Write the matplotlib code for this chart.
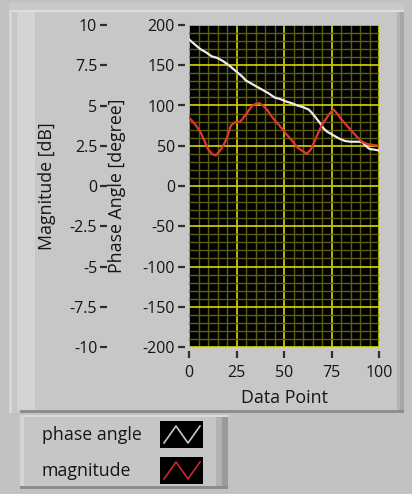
import matplotlib
matplotlib.use("Agg")
import matplotlib.pyplot as plt
from matplotlib.patches import Rectangle
from matplotlib.ticker import MultipleLocator, FixedLocator, FuncFormatter

plt.rcParams["font.family"] = ["Open Sans", "DejaVu Sans"]
plt.rcParams["axes.unicode_minus"] = False

# ---- data -------------------------------------------------------------
phase_x = [0, 2, 4, 6, 9, 12, 15, 18, 21, 24, 26, 28, 30, 33, 36, 39, 42, 45,
           48, 51, 54, 57, 60, 63, 65, 67, 69, 71, 73, 76, 79, 82, 85, 88, 91,
           93, 95, 98, 100]
phase_deg = [182, 178, 174, 170, 166, 161, 159, 155, 150, 144, 140, 136, 131,
             127, 123, 119, 115, 110, 108, 105, 103, 100, 98, 95, 90, 84, 78,
             71, 67, 63, 59, 56, 55, 55, 55, 50, 46, 45, 44]

mag_x = [0, 2, 4, 6, 8, 10, 12, 14, 16, 18, 20, 22, 24, 27, 30, 33, 35, 37, 39,
         41, 43, 45, 48, 51, 54, 57, 60, 62, 64, 66, 68, 70, 72, 74, 76, 78, 80,
         82, 85, 88, 91, 94, 97, 100]
mag_db = [4.25, 4.0, 3.7, 3.35, 2.85, 2.3, 2.0, 1.9, 2.15, 2.5, 3.0, 3.75, 3.95,
          4.0, 4.45, 4.95, 5.1, 5.15, 5.0, 4.75, 4.4, 4.1, 3.7, 3.25, 2.85, 2.4,
          2.15, 2.0, 2.25, 2.75, 3.3, 3.8, 4.15, 4.5, 4.75, 4.5, 4.15, 3.9, 3.5,
          3.1, 2.75, 2.6, 2.55, 2.5]

x_ticks = [0, 25, 50, 75, 100]
phase_ticks = [-200, -150, -100, -50, 0, 50, 100, 150, 200]
mag_ticks = [-10, -7.5, -5, -2.5, 0, 2.5, 5, 7.5, 10]

legend_names = ["phase angle", "magnitude"]
phase_color = "#ececec"
mag_color = "#e0382a"

# ---- figure -------------------------------------------------------------
W, H = 412, 494
fig = plt.figure(figsize=(W / 100, H / 100), dpi=100)
fig.patch.set_facecolor("#c2c2c2")

TXT = "#151515"
FS_TICK = 11.5
FS_LABEL = 12.8


def fx(px):
    return px / W


def fy(py):
    return 1 - py / H


# panel background drawn in pixel coordinates
bg = fig.add_axes([0, 0, 1, 1], zorder=-5)
bg.set_xlim(0, W)
bg.set_ylim(H, 0)
bg.axis("off")


def rect(x0, y0, x1, y1, color, **kw):
    bg.add_patch(Rectangle((x0, y0), x1 - x0, y1 - y0, facecolor=color,
                           edgecolor="none", **kw))


# graph frame
rect(9, 3, 404, 413, "#c7c7c7")
rect(9, 3, 404, 10, "#c9c9c9")
rect(9, 10, 404, 12, "#dedede")
rect(9, 10, 12, 413, "#d6d6d6")
rect(17, 12, 35, 411, "#d3d3d3")
rect(397, 12, 400, 411, "#b4b4b4")
rect(400, 12, 404, 411, "#a6a6a6")
rect(20, 410, 404, 413, "#8e8e8e")

# legend panel
rect(20, 415, 228, 489, "#c6c6c6")
rect(20, 415, 228, 417, "#dadada")
rect(20, 415, 24, 489, "#d4d4d4")
rect(216, 417, 222, 487, "#b2b2b2")
rect(222, 417, 228, 487, "#9a9a9a")
rect(20, 486, 228, 489, "#8c8c8c")

swatch_colors = [phase_color, mag_color]
for i, (name, col) in enumerate(zip(legend_names, swatch_colors)):
    top = 421 + i * 36
    rect(160, top, 203, top + 27, "#000000")
    zx = [164, 176, 188, 200]
    zy = [top + 22, top + 5, top + 22, top + 5]
    bg.plot(zx, zy, color="#c8c8c8" if i == 0 else "#c8282a", lw=1.2)
    bg.text(42, top + 13.5, name, ha="left", va="center", fontsize=FS_LABEL,
            color=TXT)

# ---- main plot ------------------------------------------------------------
L, R, T, B = 189, 379, 25, 347
ax = fig.add_axes([fx(L), fy(B), (R - L) / W, (B - T) / H])
ax.set_facecolor("#000000")
ax.set_xlim(0, 100)
ax.set_ylim(-200, 200)

ax.xaxis.set_major_locator(FixedLocator(x_ticks))
ax.yaxis.set_major_locator(FixedLocator(phase_ticks))
ax.xaxis.set_minor_locator(MultipleLocator(5))
ax.yaxis.set_minor_locator(MultipleLocator(10))
ax.set_axisbelow(True)
ax.grid(which="minor", color="#5e5e10", lw=1.0)
ax.grid(which="major", color="#c8c800", lw=1.3)

for s in ax.spines.values():
    s.set_visible(False)
ax.spines["left"].set_position(("outward", 3))
ax.spines["bottom"].set_position(("outward", 3))
ax.tick_params(which="major", direction="out", length=5, width=1.6,
               color="#2e2e2e", labelsize=FS_TICK, labelcolor=TXT)
ax.tick_params(axis="y", pad=2)
ax.tick_params(axis="x", pad=5)
ax.tick_params(which="minor", length=0)

ax.plot(phase_x, phase_deg, color=phase_color, lw=1.6, zorder=3)

# magnitude scale on a second axis, shown further to the left
ax2 = ax.twinx()
ax2.set_ylim(-10, 10)
ax2.patch.set_visible(False)
for s in ax2.spines.values():
    s.set_visible(False)
ax2.yaxis.tick_left()
ax2.spines["left"].set_position(("outward", (L - 107) * 0.72))
ax2.yaxis.set_major_locator(FixedLocator(mag_ticks))
ax2.yaxis.set_major_formatter(FuncFormatter(lambda v, p: f"{v:g}"))
ax2.tick_params(axis="y", direction="out", length=5, width=1.6,
                color="#2e2e2e", labelsize=FS_TICK, labelcolor=TXT, pad=2)
ax2.plot(mag_x, mag_db, color=mag_color, lw=1.6, zorder=4)

fig.text(fx(117), fy(186), "Phase Angle [degree]", rotation=90, ha="center",
         va="center", fontsize=FS_LABEL, color=TXT)
fig.text(fx(47), fy(186), "Magnitude [dB]", rotation=90, ha="center",
         va="center", fontsize=FS_LABEL, color=TXT)
fig.text(fx(284), fy(398), "Data Point", ha="center", va="center",
         fontsize=FS_LABEL, color=TXT)

fig.savefig("out.png", dpi=100)
